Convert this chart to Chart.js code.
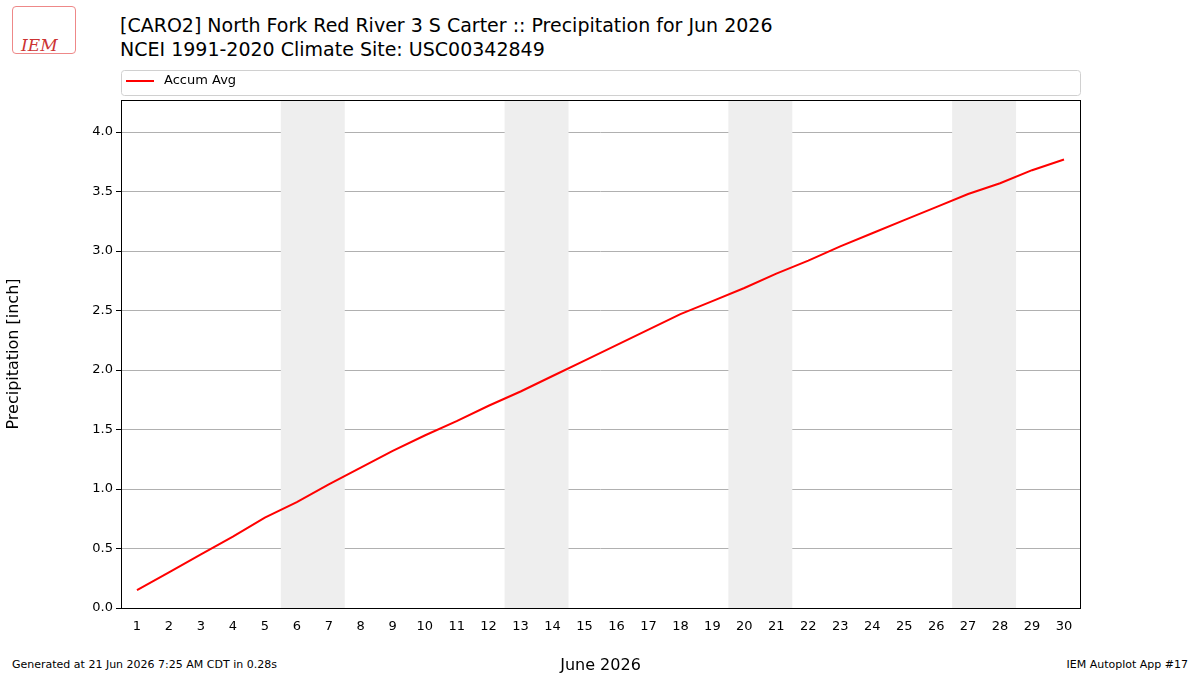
<!DOCTYPE html>
<html lang="en">
  <head>
    <meta charset="UTF-8" />
    <title>Precipitation</title>
    <script src="https://cdn.jsdelivr.net/npm/chart.js@4"></script>
    <style>
      body { margin: 0; width: 1200px; height: 675px; position: relative; background: #fff; font-family: "DejaVu Sans", sans-serif; }
      canvas { position: absolute; left: 0; top: 0; }
      .t { position: absolute; white-space: nowrap; color: #000; }
    </style>
  </head>
  <body>
    <div class="t" style="left:120px;top:13px;font-size:19px;line-height:24px">[CARO2] North Fork Red River 3 S Carter :: Precipitation for Jun 2026<br>NCEI 1991-2020 Climate Site: USC00342849</div>
    <div class="t" style="left:12px;top:6px;width:64px;height:48px;border:1px solid #e88;border-radius:4px;color:#c33;font-style:italic;font-family:'DejaVu Serif';font-size:17px;padding-top:28px;box-sizing:border-box;padding-left:8px">IEM</div>
    <div class="t" style="left:12px;top:658px;font-size:11px">Generated at 21 Jun 2026 7:25 AM CDT in 0.28s</div>
    <div class="t" style="right:12px;top:658px;font-size:11px">IEM Autoplot App #17</div>
    <canvas id="c" width="1200" height="675"></canvas>
    <script>
      let days = [];
      for (let d = 1; d <= 30; d++) days.push(d);
      let accumAvg = [0.15, 0.30, 0.45, 0.60, 0.76, 0.89, 1.04, 1.18, 1.32, 1.45,
        1.57, 1.70, 1.82, 1.95, 2.08, 2.21, 2.34, 2.47, 2.58, 2.69,
        2.81, 2.92, 3.04, 3.15, 3.26, 3.37, 3.48, 3.57, 3.68, 3.77];
      let weekends = [[5.5, 7.5], [12.5, 14.5], [19.5, 21.5], [26.5, 28.5]];

      let shade = {
        id: "shade",
        beforeDatasetsDraw(chart) {
          let ctx = chart.ctx, a = chart.chartArea, x = chart.scales.x;
          ctx.save();
          ctx.fillStyle = "#eeeeee";
          weekends.forEach(w => {
            let x0 = x.getPixelForValue(w[0]), x1 = x.getPixelForValue(w[1]);
            ctx.fillRect(x0, a.top, x1 - x0, a.bottom - a.top);
          });
          ctx.restore();
        },
        afterDraw(chart) {
          let ctx = chart.ctx, a = chart.chartArea;
          ctx.save();
          ctx.strokeStyle = "#000";
          ctx.lineWidth = 1;
          ctx.strokeRect(a.left + 0.5, a.top + 0.5, a.right - a.left, a.bottom - a.top);
          // legend box
          ctx.strokeStyle = "#d0d0d0";
          ctx.beginPath();
          ctx.roundRect(a.left + 0.5, 70.5, a.right - a.left, 25, 3);
          ctx.stroke();
          ctx.strokeStyle = "red";
          ctx.lineWidth = 2;
          ctx.beginPath();
          ctx.moveTo(126, 81); ctx.lineTo(154, 81);
          ctx.stroke();
          ctx.fillStyle = "#000";
          ctx.font = "13px 'DejaVu Sans'";
          ctx.textBaseline = "middle";
          ctx.fillText("Accum Avg", 164, 81);
          ctx.restore();
        }
      };

      new Chart(document.getElementById("c"), {
        type: "line",
        data: {
          datasets: [{
            label: "Accum Avg",
            data: days.map((d, i) => ({ x: d, y: accumAvg[i] })),
            borderColor: "red",
            borderWidth: 2,
            pointRadius: 0,
            tension: 0,
          }],
        },
        options: {
          responsive: false,
          animation: false,
          layout: { padding: { top: 100, right: 120, left: 0, bottom: 0 } },
          plugins: { legend: { display: false }, tooltip: { enabled: false } },
          scales: {
            x: {
              type: "linear", min: 0.5, max: 30.5,
              afterBuildTicks: s => { s.ticks = days.map(v => ({ value: v })); },
              afterFit: s => { s.height = 67; },
              grid: { display: false, drawTicks: true },
              border: { display: false },
              ticks: { color: "#000", font: { family: "DejaVu Sans", size: 13 }, maxRotation: 0, autoSkip: false },
              title: { display: true, text: "June 2026", color: "#000", font: { family: "DejaVu Sans", size: 16 }, padding: 0 },
            },
            y: {
              min: 0, max: 4.27,
              afterBuildTicks: s => { s.ticks = [0, 0.5, 1, 1.5, 2, 2.5, 3, 3.5, 4].map(v => ({ value: v })); },
              afterFit: s => { s.width = 121; },
              grid: { color: "#b0b0b0", tickColor: "#000", tickLength: 5 },
              border: { display: false },
              ticks: { color: "#000", font: { family: "DejaVu Sans", size: 13 }, callback: v => v.toFixed(1) },
              title: { display: true, text: "Precipitation [inch]", color: "#000", font: { family: "DejaVu Sans", size: 16 } },
            },
          },
        },
        plugins: [shade],
      });
    </script>
  </body>
</html>
